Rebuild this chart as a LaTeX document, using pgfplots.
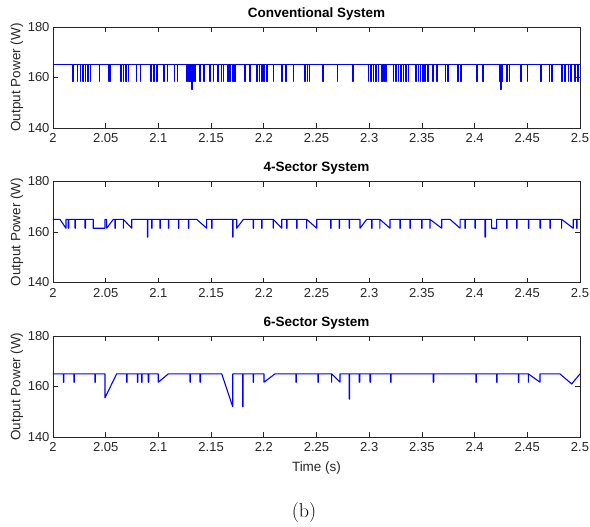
\documentclass[border=0pt]{standalone}
\usepackage{fontspec}
\setmainfont{Liberation Sans}
\newfontfamily\lmr{Latin Modern Roman}
\usepackage{pgfplots}
\pgfplotsset{compat=1.18}

\pgfplotsset{
  sectorax/.style={
    scale only axis, width=527pt, height=101pt,
    xmin=2, xmax=2.5, ymin=140, ymax=180,
    xtick={2,2.05,2.1,2.15,2.2,2.25,2.3,2.35,2.4,2.45,2.5},
    ytick={140,160,180},
    tick align=inside, major tick length=5pt,
    axis line style={black!85, line width=0.6pt},
    tick style={black!85, line width=0.6pt},
    every tick label/.append style={font=\fontsize{13}{15}\selectfont, text=black!85},
    xticklabel style={yshift=-2pt},
    /pgf/number format/assume math mode=true,
    ylabel={Output Power (W)},
    every axis y label/.style={at={(axis description cs:-0.0683,0.5)}, rotate=90, anchor=center,
      font=\fontsize{13.5}{16}\selectfont, text=black!85},
    every axis x label/.style={at={(axis description cs:0.5,-0.307)}, anchor=center,
      font=\fontsize{13.5}{16}\selectfont, text=black!85},
    every axis title/.style={at={(axis description cs:0.5,1)}, anchor=center, yshift=13pt,
      font=\bfseries\fontsize{13.5}{16}\selectfont},
  },
  trace/.style={blue, line width=1.1pt, mark=none, line join=round},
}

\begin{document}
\begin{tikzpicture}
\useasboundingbox (0,0) rectangle (590pt,-527pt);

% conventional
\begin{axis}[sectorax, at={(53pt,-128pt)}, anchor=south west, title={Conventional System}]
\addplot[trace] coordinates {
(2,165)
(2.0187,165)(2.0187,158.3)(2.0191,158.3)(2.0191,165)
(2.0232,165)(2.0232,158.3)(2.0236,158.3)(2.0236,165)
(2.0261,165)(2.0261,158.3)(2.0265,158.3)(2.0265,165)
(2.0285,165)(2.0285,158.3)(2.0289,158.3)(2.0289,165)
(2.0308,165)(2.0308,158.3)(2.0312,158.3)(2.0312,165)
(2.0332,165)(2.0332,158.3)(2.0336,158.3)(2.0336,165)
(2.0356,165)(2.0356,158.3)(2.0360,158.3)(2.0360,165)
(2.0439,165)(2.0439,158.3)(2.0443,158.3)(2.0443,165)
(2.0525,165)(2.0525,158.3)(2.0529,158.3)(2.0529,165)
(2.0541,165)(2.0541,158.3)(2.0545,158.3)(2.0545,165)
(2.0645,165)(2.0645,158.3)(2.0649,158.3)(2.0649,165)
(2.0667,165)(2.0667,158.3)(2.0671,158.3)(2.0671,165)
(2.0693,165)(2.0693,158.3)(2.0697,158.3)(2.0697,165)
(2.0716,165)(2.0716,158.3)(2.0720,158.3)(2.0720,165)
(2.0792,165)(2.0792,158.3)(2.0796,158.3)(2.0796,165)
(2.0828,165)(2.0828,158.3)(2.0832,158.3)(2.0832,165)
(2.0930,165)(2.0930,158.3)(2.0934,158.3)(2.0934,165)
(2.0958,165)(2.0958,158.3)(2.0962,158.3)(2.0962,165)
(2.0984,165)(2.0984,158.3)(2.0988,158.3)(2.0988,165)
(2.1053,165)(2.1053,158.3)(2.1057,158.3)(2.1057,165)
(2.1086,165)(2.1086,158.3)(2.1090,158.3)(2.1090,165)
(2.1153,165)(2.1153,158.3)(2.1157,158.3)(2.1157,165)
(2.1181,165)(2.1181,158.3)(2.1185,158.3)(2.1185,165)
(2.1267,165)(2.1267,158.3)(2.1271,158.3)(2.1271,165)
(2.1286,165)(2.1286,158.3)(2.1290,158.3)(2.1290,165)
(2.1300,165)(2.1300,158.3)(2.1304,158.3)(2.1304,165)
(2.1319,165)(2.1319,155.2)(2.1323,155.2)(2.1323,165)
(2.1333,165)(2.1333,158.3)(2.1337,158.3)(2.1337,165)
(2.1347,165)(2.1347,158.3)(2.1351,158.3)(2.1351,165)
(2.1395,165)(2.1395,158.3)(2.1399,158.3)(2.1399,165)
(2.1433,165)(2.1433,158.3)(2.1437,158.3)(2.1437,165)
(2.1490,165)(2.1490,158.3)(2.1494,158.3)(2.1494,165)
(2.1521,165)(2.1521,158.3)(2.1525,158.3)(2.1525,165)
(2.1565,165)(2.1565,158.3)(2.1569,158.3)(2.1569,165)
(2.1597,165)(2.1597,158.3)(2.1601,158.3)(2.1601,165)
(2.1616,165)(2.1616,158.3)(2.1620,158.3)(2.1620,165)
(2.1657,165)(2.1657,158.3)(2.1661,158.3)(2.1661,165)
(2.1679,165)(2.1679,158.3)(2.1683,158.3)(2.1683,165)
(2.1705,165)(2.1705,158.3)(2.1709,158.3)(2.1709,165)
(2.1724,165)(2.1724,158.3)(2.1728,158.3)(2.1728,165)
(2.1822,165)(2.1822,158.3)(2.1826,158.3)(2.1826,165)
(2.1869,165)(2.1869,158.3)(2.1873,158.3)(2.1873,165)
(2.1933,165)(2.1933,158.3)(2.1937,158.3)(2.1937,165)
(2.1957,165)(2.1957,158.3)(2.1961,158.3)(2.1961,165)
(2.1980,165)(2.1980,158.3)(2.1984,158.3)(2.1984,165)
(2.2002,165)(2.2002,158.3)(2.2006,158.3)(2.2006,165)
(2.2028,165)(2.2028,158.3)(2.2032,158.3)(2.2032,165)
(2.2090,165)(2.2090,158.3)(2.2094,158.3)(2.2094,165)
(2.2170,165)(2.2170,158.3)(2.2174,158.3)(2.2174,165)
(2.2211,165)(2.2211,158.3)(2.2215,158.3)(2.2215,165)
(2.2280,165)(2.2280,158.3)(2.2284,158.3)(2.2284,165)
(2.2391,165)(2.2391,158.3)(2.2395,158.3)(2.2395,165)
(2.2413,165)(2.2413,158.3)(2.2417,158.3)(2.2417,165)
(2.2432,165)(2.2432,158.3)(2.2436,158.3)(2.2436,165)
(2.2562,165)(2.2562,158.3)(2.2566,158.3)(2.2566,165)
(2.2699,165)(2.2699,158.3)(2.2703,158.3)(2.2703,165)
(2.2842,165)(2.2842,158.3)(2.2846,158.3)(2.2846,165)
(2.2991,165)(2.2991,158.3)(2.2995,158.3)(2.2995,165)
(2.3017,165)(2.3017,158.3)(2.3021,158.3)(2.3021,165)
(2.3039,165)(2.3039,158.3)(2.3043,158.3)(2.3043,165)
(2.3062,165)(2.3062,158.3)(2.3066,158.3)(2.3066,165)
(2.3086,165)(2.3086,158.3)(2.3090,158.3)(2.3090,165)
(2.3119,165)(2.3119,158.3)(2.3123,158.3)(2.3123,165)
(2.3140,165)(2.3140,158.3)(2.3144,158.3)(2.3144,165)
(2.3159,165)(2.3159,158.3)(2.3163,158.3)(2.3163,165)
(2.3229,165)(2.3229,158.3)(2.3233,158.3)(2.3233,165)
(2.3254,165)(2.3254,158.3)(2.3258,158.3)(2.3258,165)
(2.3276,165)(2.3276,158.3)(2.3280,158.3)(2.3280,165)
(2.3299,165)(2.3299,158.3)(2.3303,158.3)(2.3303,165)
(2.3324,165)(2.3324,158.3)(2.3328,158.3)(2.3328,165)
(2.3349,165)(2.3349,158.3)(2.3353,158.3)(2.3353,165)
(2.3371,165)(2.3371,158.3)(2.3375,158.3)(2.3375,165)
(2.3444,165)(2.3444,158.3)(2.3448,158.3)(2.3448,165)
(2.3466,165)(2.3466,158.3)(2.3470,158.3)(2.3470,165)
(2.3487,165)(2.3487,158.3)(2.3491,158.3)(2.3491,165)
(2.3510,165)(2.3510,158.3)(2.3514,158.3)(2.3514,165)
(2.3529,165)(2.3529,158.3)(2.3533,158.3)(2.3533,165)
(2.3558,165)(2.3558,158.3)(2.3562,158.3)(2.3562,165)
(2.3605,165)(2.3605,158.3)(2.3609,158.3)(2.3609,165)
(2.3643,165)(2.3643,158.3)(2.3647,158.3)(2.3647,165)
(2.3724,165)(2.3724,158.3)(2.3728,158.3)(2.3728,165)
(2.3748,165)(2.3748,158.3)(2.3752,158.3)(2.3752,165)
(2.3843,165)(2.3843,158.3)(2.3847,158.3)(2.3847,165)
(2.3868,165)(2.3868,158.3)(2.3872,158.3)(2.3872,165)
(2.4020,165)(2.4020,158.3)(2.4024,158.3)(2.4024,165)
(2.4080,165)(2.4080,158.3)(2.4084,158.3)(2.4084,165)
(2.4236,165)(2.4236,158.3)(2.4240,158.3)(2.4240,165)
(2.4248,165)(2.4248,155.2)(2.4252,155.2)(2.4252,165)
(2.4260,165)(2.4260,158.3)(2.4264,158.3)(2.4264,165)
(2.4305,165)(2.4305,158.3)(2.4309,158.3)(2.4309,165)
(2.4329,165)(2.4329,158.3)(2.4333,158.3)(2.4333,165)
(2.4437,165)(2.4437,158.3)(2.4441,158.3)(2.4441,165)
(2.4500,165)(2.4500,158.3)(2.4504,158.3)(2.4504,165)
(2.4627,165)(2.4627,158.3)(2.4631,158.3)(2.4631,165)
(2.4709,165)(2.4709,158.3)(2.4713,158.3)(2.4713,165)
(2.4731,165)(2.4731,158.3)(2.4735,158.3)(2.4735,165)
(2.4829,165)(2.4829,158.3)(2.4833,158.3)(2.4833,165)
(2.4858,165)(2.4858,158.3)(2.4862,158.3)(2.4862,165)
(2.4889,165)(2.4889,158.3)(2.4893,158.3)(2.4893,165)
(2.4912,165)(2.4912,158.3)(2.4916,158.3)(2.4916,165)
(2.4953,165)(2.4953,158.3)(2.4957,158.3)(2.4957,165)
(2.4981,165)(2.4981,158.3)(2.4985,158.3)(2.4985,165)
(2.5,165)
};
\end{axis}

% 4-sector
\begin{axis}[sectorax, at={(53pt,-282.5pt)}, anchor=south west, title={4-Sector System}]
\addplot[trace] coordinates {
(2,165)
(2.0066,165)(2.0123,161.5)(2.0123,165)
(2.0145,165)(2.0145,161.5)(2.0149,161.5)(2.0149,165)
(2.0209,165)(2.0209,161.5)(2.0213,161.5)(2.0213,165)
(2.0304,165)(2.0304,161.5)(2.0308,161.5)(2.0308,165)
(2.0382,165)(2.0382,161.5)(2.0493,161.5)(2.0493,165)
(2.0509,165)(2.0509,161.5)(2.0572,165)
(2.0588,165)(2.0588,161.5)(2.0592,161.5)(2.0592,165)
(2.0667,165)(2.0667,161.5)(2.0667,165)(2.0747,161.5)(2.0747,165)
(2.0895,165)(2.0895,158.0)(2.0899,158.0)(2.0899,165)
(2.0936,165)(2.0936,161.5)(2.0940,161.5)(2.0940,165)
(2.1015,165)(2.1015,161.5)(2.1019,161.5)(2.1019,165)
(2.1094,165)(2.1094,161.5)(2.1098,161.5)(2.1098,165)
(2.1189,165)(2.1189,161.5)(2.1193,161.5)(2.1193,165)
(2.1284,165)(2.1284,161.5)(2.1288,161.5)(2.1288,165)
(2.1363,165)(2.1458,161.5)(2.1458,165)
(2.1506,165)(2.1506,161.5)(2.1510,161.5)(2.1510,165)
(2.1705,165)(2.1705,158.0)(2.1709,158.0)(2.1709,165)
(2.1743,165)(2.1743,161.5)(2.1806,165)
(2.1900,165)(2.1900,161.5)(2.1904,161.5)(2.1904,165)
(2.1980,165)(2.1980,161.5)(2.1984,161.5)(2.1984,165)
(2.2090,165)(2.2090,161.5)(2.2090,165)(2.2170,161.5)(2.2170,165)
(2.2217,165)(2.2217,161.5)(2.2221,161.5)(2.2221,165)
(2.2312,165)(2.2312,161.5)(2.2316,161.5)(2.2316,165)
(2.2407,165)(2.2407,161.5)(2.2407,165)(2.2502,161.5)(2.2502,165)
(2.2635,165)(2.2635,161.5)(2.2639,161.5)(2.2639,165)
(2.2716,165)(2.2716,161.5)(2.2720,161.5)(2.2720,165)
(2.2811,165)(2.2811,161.5)(2.2815,161.5)(2.2815,165)
(2.2913,165)(2.2913,161.5)(2.2976,165)
(2.3024,165)(2.3024,161.5)(2.3028,161.5)(2.3028,165)
(2.3102,165)(2.3102,161.5)(2.3102,165)(2.3197,161.5)(2.3197,165)
(2.3292,165)(2.3292,161.5)(2.3296,161.5)(2.3296,165)
(2.3387,165)(2.3387,161.5)(2.3391,161.5)(2.3391,165)
(2.3498,165)(2.3498,161.5)(2.3502,161.5)(2.3502,165)
(2.3577,165)(2.3577,161.5)(2.3577,165)(2.3688,161.5)(2.3688,165)
(2.3767,165)(2.3862,161.5)(2.3862,165)
(2.3909,165)(2.3909,161.5)(2.3913,161.5)(2.3913,165)
(2.4004,165)(2.4004,161.5)(2.4008,161.5)(2.4008,165)
(2.4099,165)(2.4099,158.0)(2.4103,158.0)(2.4103,165)
(2.4162,165)(2.4162,161.5)(2.4209,161.5)(2.4209,165)
(2.4305,165)(2.4305,161.5)(2.4309,161.5)(2.4309,165)
(2.4399,165)(2.4399,161.5)(2.4403,161.5)(2.4403,165)
(2.4510,165)(2.4510,161.5)(2.4514,161.5)(2.4514,165)
(2.4621,165)(2.4621,161.5)(2.4625,161.5)(2.4625,165)
(2.4715,165)(2.4715,161.5)(2.4719,161.5)(2.4719,165)
(2.4826,165)(2.4826,161.5)(2.4826,165)(2.4936,161.5)(2.4936,165)
(2.4969,165)(2.4969,161.5)(2.4973,161.5)(2.4973,165)
(2.5,165)
};
\end{axis}

% 6-sector
\begin{axis}[sectorax, at={(53pt,-437pt)}, anchor=south west, title={6-Sector System}, xlabel={Time (s)}]
\addplot[trace] coordinates {
(2,165)
(2.0098,165)(2.0098,161.7)(2.0102,161.7)(2.0102,165)
(2.0199,165)(2.0199,161.7)(2.0203,161.7)(2.0203,165)
(2.0398,165)(2.0398,161.7)(2.0402,161.7)(2.0402,165)
(2.0493,165)(2.0493,155.5)(2.0604,165)
(2.0699,165)(2.0699,161.7)(2.0703,161.7)(2.0703,165)
(2.0800,165)(2.0800,161.7)(2.0804,161.7)(2.0804,165)
(2.0842,165)(2.0842,161.7)(2.0846,161.7)(2.0846,165)
(2.0904,165)(2.0904,161.7)(2.0908,161.7)(2.0908,165)
(2.0999,165)(2.0999,161.7)(2.1094,165)
(2.1300,165)(2.1300,161.7)(2.1304,161.7)(2.1304,165)
(2.1395,165)(2.1395,161.7)(2.1399,161.7)(2.1399,165)
(2.1601,165)(2.1705,152)(2.1705,165)
(2.1800,165)(2.1800,152)(2.1804,152)(2.1804,165)
(2.1900,165)(2.1900,161.7)(2.1904,161.7)(2.1904,165)
(2.2002,165)(2.2002,161.7)(2.2106,165)
(2.2305,165)(2.2305,161.7)(2.2309,161.7)(2.2309,165)
(2.2514,165)(2.2514,161.7)(2.2518,161.7)(2.2518,165)
(2.2644,165)(2.2644,161.7)(2.2644,165)(2.2723,161.7)(2.2723,165)
(2.2811,165)(2.2811,155)(2.2815,155)(2.2815,165)
(2.2906,165)(2.2906,161.7)(2.2910,161.7)(2.2910,165)
(2.3008,165)(2.3008,161.7)(2.3012,161.7)(2.3012,165)
(2.3204,165)(2.3204,161.7)(2.3208,161.7)(2.3208,165)
(2.3608,165)(2.3608,161.7)(2.3612,161.7)(2.3612,165)
(2.4013,165)(2.4013,161.7)(2.4017,161.7)(2.4017,165)
(2.4210,165)(2.4210,161.7)(2.4214,161.7)(2.4214,165)
(2.4415,165)(2.4415,161.7)(2.4419,161.7)(2.4419,165)
(2.4510,165)(2.4510,161.7)(2.4510,165)(2.4621,161.7)(2.4621,165)
(2.4810,165)(2.4921,161)(2.5,165)
};
\end{axis}

\node[font=\lmr\fontsize{20}{24}\selectfont] at (304pt,-513pt) {(b)};
\end{tikzpicture}
\end{document}
